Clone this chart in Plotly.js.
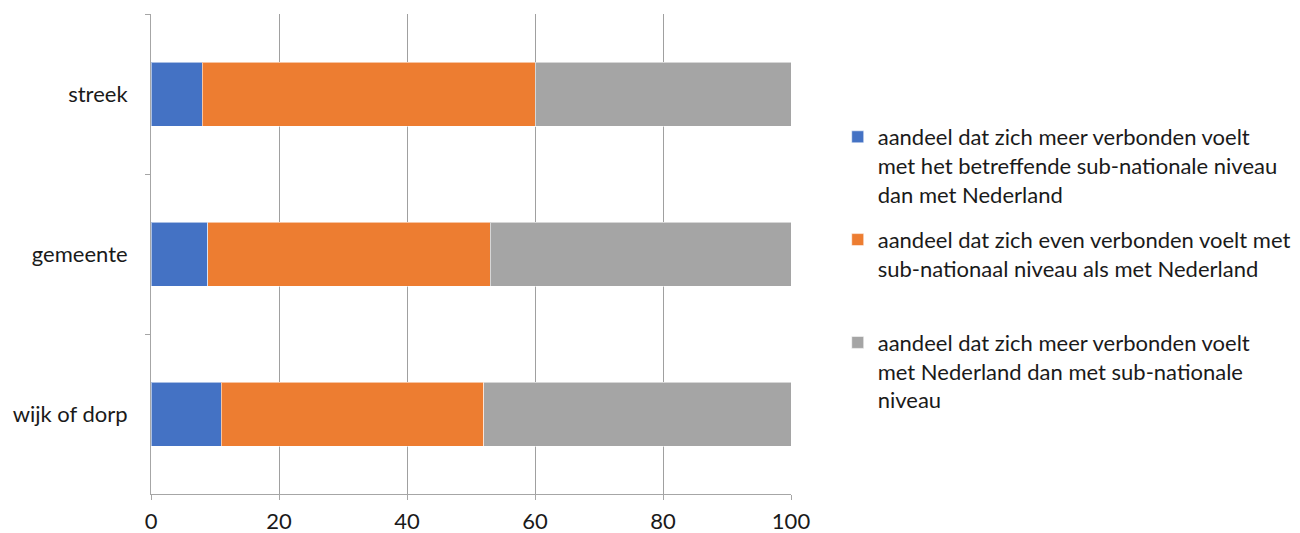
<!DOCTYPE html>
<html>
<head>
<meta charset="utf-8">
<script src="https://cdn.plot.ly/plotly-3.0.1.min.js"></script>
<style>html,body{margin:0;padding:0;background:#fff;}#chart{width:1300px;height:533px;}</style>
</head>
<body>
<div id="chart"></div>
<script>
const categories = ['streek', 'gemeente', 'wijk of dorp'];
const seriesNames = [
  'aandeel dat zich meer verbonden voelt<br>met het betreffende sub-nationale niveau<br>dan met Nederland',
  'aandeel dat zich even verbonden voelt met<br>sub-nationaal niveau als met Nederland<br> ',
  'aandeel dat zich meer verbonden voelt<br>met Nederland dan met sub-nationale<br>niveau'
];
const meerSubnationaal = [8.0, 8.9, 11.0];
const evenVerbonden = [52.0, 44.1, 41.0];
const meerNederland = [40.4, 47.0, 48.4];
const xTicks = [0, 20, 40, 60, 80, 100];
const colors = ['#4472c4', '#ed7d31', '#a5a5a5'];

const seriesValues = [meerSubnationaal, evenVerbonden, meerNederland];
const traces = seriesValues.map((vals, i) => ({
  type: 'bar',
  orientation: 'h',
  y: categories,
  x: vals,
  name: seriesNames[i],
  legendgroup: 'g' + i,
  marker: {color: colors[i], line: {color: 'rgba(255,255,255,0.55)', width: 1}},
  hoverinfo: 'x+y'
}));

const font = {family: 'Lato, "Noto Sans", sans-serif', size: 22, color: '#1a1a1a'};
const layout = {
  width: 1300, height: 533,
  margin: {l: 151, r: 509, t: 14, b: 39, pad: 0, autoexpand: false},
  paper_bgcolor: '#fff', plot_bgcolor: '#fff',
  barmode: 'stack',
  bargap: 0.6,
  font: font,
  showlegend: true,
  legend: {
    x: 1.073, xanchor: 'left', y: 0.7875, yanchor: 'top',
    traceorder: 'grouped', valign: 'top',
    font: {family: font.family, size: 22, color: '#1a1a1a'},
    itemwidth: 30, tracegroupgap: 14, bgcolor: 'rgba(0,0,0,0)'
  },
  xaxis: {
    range: [0, 100], tickvals: xTicks, ticktext: xTicks.map(String),
    showgrid: true, gridcolor: '#a0a0a0', gridwidth: 1,
    showline: true, linecolor: '#a6a6a6', linewidth: 1,
    ticks: 'outside', ticklen: 5, tickcolor: '#a6a6a6',
    zeroline: false, tickfont: font, fixedrange: true,
    ticklabelstandoff: 3
  },
  yaxis: {
    type: 'category', autorange: 'reversed',
    tickson: 'boundaries', ticks: 'outside', ticklen: 5, tickcolor: '#a6a6a6',
    showline: true, linecolor: '#a6a6a6', linewidth: 1,
    showgrid: false, zeroline: false, tickfont: font,
    ticklabelstandoff: 18, fixedrange: true
  }
};
Plotly.newPlot('chart', traces, layout, {displayModeBar: false, staticPlot: true});
</script>
</body>
</html>
